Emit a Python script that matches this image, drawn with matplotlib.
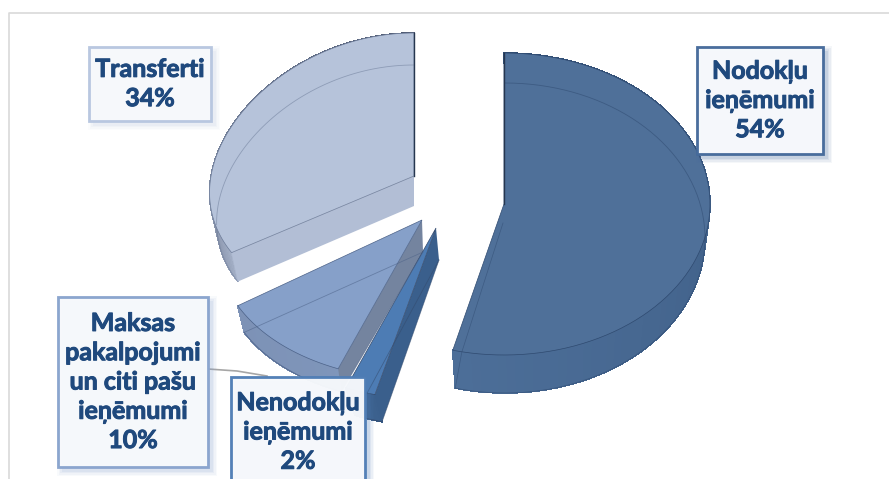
#!/usr/bin/env python3

import numpy as np
import matplotlib
matplotlib.use("Agg")
import matplotlib.patheffects as path_effects
import matplotlib.pyplot as plt
from matplotlib.colors import to_rgb
from matplotlib.patches import Polygon, Rectangle


# clockwise from 12 o'clock
names = ["Nodokļu ieņēmumi", "Nenodokļu ieņēmumi", "Maksas pakalpojumi", "Transferti"]
shares = [54, 2, 10, 34]

label_texts = [
    "Nodokļu\nieņēmumi\n54%",
    "Nenodokļu\nieņēmumi\n2%",
    "Maksas\npakalpojumi\nun citi pašu\nieņēmumi\n10%",
    "Transferti\n34%",
]

top_colors = ["#4f7099", "#4d7cb4", "#86a0c9", "#b6c3da"]
# rim shading: colour at the slice start and at its end
rim_start = ["#2e4a70", "#3a5f8c", "#7f96bb", "#a7b3ca"]
rim_end = ["#4c6e98", "#3f6491", "#7d92b6", "#4d5870"]
side_colors = ["#4f7099", "#3a5f8c", "#74849f", "#b2bed5"]
line_colors = ["#2f4a70", "#33496b", "#4c6288", "#6d7c99"]
box_edges = ["#44699a", "#4f7db5", "#88a3cd", "#b7c6e0"]

# (cx, cy, a, b) of the top face and of the underside, in pixels
top_shapes = [
    (504, 204, 206, 151),
    (436, 228, 220, 172),
    (422, 220, 205, 160),
    (414, 176, 203, 143),
]
bottom_shapes = [
    (505, 238, 200, 155),
    (439, 260, 205, 167),
    (423, 252, 199, 150),
    (414, 206, 196, 141),
]
# how much each slice widens towards the viewer
perspective = [0.0, 0.12, 0.12, 0.12]
# x0, y0, x1, y1 of the boxes
boxes = [
    (697, 47, 823, 154),
    (231, 377, 365, 490),
    (58, 297, 208, 467),
    (89, 47, 211, 121),
]
TEXT_COLOR = "#1f497d"


def arc(shape, start, end, widening, count=80):
    cx, cy, a, b = shape
    theta = np.radians(np.linspace(start, end, count))
    widen = 1 - widening * np.cos(theta)
    return np.column_stack((cx + a * np.sin(theta) * widen, cy - b * np.cos(theta)))


plt.rcParams["font.family"] = ["Lato", "DejaVu Sans"]
figure = plt.figure(figsize=(8.89, 4.79), dpi=100)
axis = figure.add_axes((0, 0, 1, 1))
axis.set_xlim(0, 889)
axis.set_ylim(479, 0)
axis.axis("off")

# frame of the chart area
axis.plot([9, 9, 889], [479, 13, 13], color="#d9d9d9", lw=1.2, zorder=0)

edges = np.concatenate(([0], np.cumsum(shares))) * 3.6

for i in [3, 2, 1, 0]:
    start, end = edges[i], edges[i + 1]
    top = top_shapes[i]
    bottom = bottom_shapes[i]
    top_arc = arc(top, start, end, perspective[i])
    bottom_arc = arc(bottom, start, end, perspective[i])

    # rim, shaded along the arc; no antialiasing or the seams show as stripes
    first = np.array(to_rgb(rim_start[i]))
    last = np.array(to_rgb(rim_end[i]))
    for k in range(len(top_arc) - 1):
        shade = first + (last - first) * (k / (len(top_arc) - 2)) ** 0.6
        quad = [top_arc[k], top_arc[k + 1], bottom_arc[k + 1], bottom_arc[k]]
        axis.add_patch(Polygon(quad, facecolor=shade, edgecolor=shade, lw=0.5,
                               antialiased=False, zorder=2))
    axis.plot(bottom_arc[:, 0], bottom_arc[:, 1], color=line_colors[i], lw=0.5,
              alpha=0.7, zorder=2)

    # cut face on the start side
    side = [top[:2], bottom[:2], bottom_arc[0], top_arc[0]]
    axis.add_patch(Polygon(side, facecolor=side_colors[i], edgecolor="none", zorder=2))

    # top face
    face = np.vstack(([top[:2]], top_arc))
    axis.add_patch(Polygon(face, facecolor=top_colors[i], edgecolor=line_colors[i],
                           lw=0.5, zorder=3))

    # underside shows through the faces as a thin line
    if i == 0:
        under = bottom_arc[:38]
    elif i == 3:
        under = bottom_arc[16:]
    else:
        under = np.vstack(([bottom[:2]], bottom_arc, [bottom[:2]]))
    axis.plot(under[:, 0], under[:, 1], color=line_colors[i], lw=0.6, alpha=0.55, zorder=4)

# crease along the cut edge of the largest slice
corner = arc(top_shapes[0], edges[1], edges[1], perspective[0], 1)[0]
low_corner = arc(bottom_shapes[0], edges[1], edges[1], perspective[0], 1)[0]
axis.plot([503, corner[0] + 9, low_corner[0]], [223, corner[1] + 2, low_corner[1]],
          color=line_colors[0], lw=0.5, alpha=0.55, zorder=4)

# dark slivers at the back of the two large slices
for i, angle in [(0, edges[0]), (3, edges[4])]:
    far = arc(top_shapes[i], angle, angle, perspective[i], 1)[0]
    axis.plot([top_shapes[i][0], far[0]], [top_shapes[i][1], far[1]],
              color="#26364f", lw=1.0, zorder=5)

# leader line of the Maksas label
axis.plot([208, 237, 267], [369, 371, 376], color="#a6a6a6", lw=1.2, zorder=5)

for text, (x0, y0, x1, y1), edge in zip(label_texts, boxes, box_edges):
    # soft shadow
    for grow, alpha in [(5, 0.05), (3.5, 0.07), (2, 0.09), (0.5, 0.12)]:
        axis.add_patch(Rectangle((x0 + 4 - grow, y0 + 4 - grow),
                                 x1 - x0 + 2 * grow, y1 - y0 + 2 * grow,
                                 facecolor=edge, edgecolor="none",
                                 alpha=alpha, zorder=6))
    axis.add_patch(Rectangle((x0, y0), x1 - x0, y1 - y0, facecolor="#f7f9fc",
                             edgecolor=edge, lw=2.0, alpha=0.97, zorder=7))
    center_y = (y0 + y1) / 2
    if y1 > 479:
        center_y = (y0 + 479) / 2 + 4
    label = axis.text((x0 + x1) / 2, center_y, text, ha="center", va="center",
                      color=TEXT_COLOR, fontsize=18, fontweight="bold",
                      linespacing=1.33, zorder=8)
    label.set_path_effects([path_effects.withStroke(linewidth=0.7, foreground=TEXT_COLOR)])

figure.savefig("out.png", dpi=100)
plt.close(figure)
